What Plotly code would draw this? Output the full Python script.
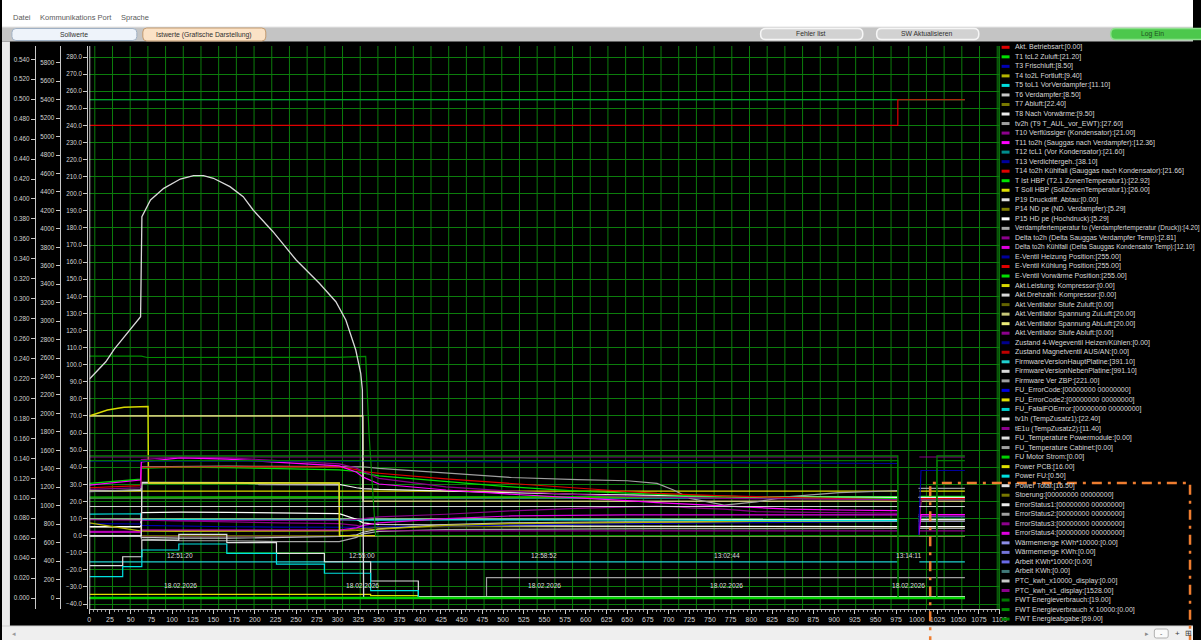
import plotly.graph_objects as go

FIG_W, FIG_H = 1201, 640
FONT = "Liberation Sans, Arial, sans-serif"

# ---------------- legend: channel labels and colours ----------------
LEGEND_LABELS = [
    "Akt. Betriebsart:[0.00]",
    "T1 tcL2 Zuluft:[21.20]",
    "T3 Frischluft:[8.50]",
    "T4 to2L Fortluft:[9.40]",
    "T5 toL1 VorVerdampfer:[11.10]",
    "T6 Verdampfer:[8.50]",
    "T7 Abluft:[22.40]",
    "T8 Nach Vorwärme:[9.50]",
    "tv2h (T9 T_AUL_vor_EWT):[27.60]",
    "T10 Verflüssiger (Kondensator):[21.00]",
    "T11 to2h (Sauggas nach Verdampfer):[12.36]",
    "T12 tcL1 (Vor Kondensator):[21.60]",
    "T13 Verdichtergeh.:[38.10]",
    "T14 to2h Kühlfall (Sauggas nach Kondensator):[21.66]",
    "T Ist HBP (T2.1 ZonenTemperatur1):[22.92]",
    "T Soll HBP (SollZonenTemperatur1):[26.00]",
    "P19 Druckdiff. Abtau:[0.00]",
    "P14 ND pe (ND. Verdampfer):[5.29]",
    "P15 HD pe (Hochdruck):[5.29]",
    "Verdampfertemperatur to (Verdampfertemperatur (Druck)):[4.20]",
    "Delta to2h (Delta Sauggas Verdampfer Temp):[2.81]",
    "Delta to2h Kühlfall (Delta Sauggas Kondensator Temp):[12.10]",
    "E-Ventil Heizung Position:[255.00]",
    "E-Ventil Kühlung Position:[255.00]",
    "E-Ventil Vorwärme Position:[255.00]",
    "Akt.Leistung: Kompressor:[0.00]",
    "Akt.Drehzahl: Kompressor:[0.00]",
    "Akt.Ventilator Stufe Zuluft:[0.00]",
    "Akt.Ventilator Spannung ZuLuft:[20.00]",
    "Akt.Ventilator Spannung AbLuft:[20.00]",
    "Akt.Ventilator Stufe Abluft:[0.00]",
    "Zustand 4-Wegeventil Heizen/Kühlen:[0.00]",
    "Zustand Magnetventil AUS/AN:[0.00]",
    "FirmwareVersionHauptPlatine:[391.10]",
    "FirmwareVersionNebenPlatine:[991.10]",
    "Firmware Ver ZBP:[221.00]",
    "FU_ErrorCode:[00000000 00000000]",
    "FU_ErrorCode2:[00000000 00000000]",
    "FU_FatalFOErrror:[00000000 00000000]",
    "tv1h (TempZusatz1):[22.40]",
    "tE1u (TempZusatz2):[11.40]",
    "FU_Temperature Powermodule:[0.00]",
    "FU_Temperature Cabinet:[0.00]",
    "FU Motor Strom:[0.00]",
    "Power PCB:[16.00]",
    "Power FU:[0.50]",
    "Power Total:[16.50]",
    "Stoerung:[00000000 00000000]",
    "ErrorStatus1:[00000000 00000000]",
    "ErrorStatus2:[00000000 00000000]",
    "ErrorStatus3:[00000000 00000000]",
    "ErrorStatus4:[00000000 00000000]",
    "Wärmemenge KWh*10000:[0.00]",
    "Wärmemenge KWh:[0.00]",
    "Arbeit KWh*10000:[0.00]",
    "Arbeit KWh:[0.00]",
    "PTC_kwh_x10000_display:[0.00]",
    "PTC_kwh_x1_display:[1528.00]",
    "FWT Energieverbrauch:[19.00]",
    "FWT Energieverbrauch X 10000:[0.00]",
    "FWT Energieabgabe:[69.00]",
]

LEGEND_COLORS = [
    "#e00000", "#00e000", "#0000b4", "#b4b400", "#00dcdc", "#c8c8c8", "#787800",
    "#ececec", "#a0a0a0", "#8c008c", "#ff00ff", "#008c8c", "#00009c", "#e00000",
    "#00e000", "#dcdc00", "#e0e0e0", "#808000", "#ffffff", "#a8a8a8", "#8c008c",
    "#e000e0", "#00009c", "#e00000", "#00e000", "#d8d800", "#d8d8d8", "#646400",
    "#c8c878", "#ecec78", "#8c008c", "#00008c", "#c00000", "#20d0d0", "#d8d8d8",
    "#a0a0a0", "#0000e0", "#e0e000", "#00d0d0", "#ececec", "#8c008c", "#e0e0e0",
    "#a0a0a0", "#00d000", "#e0e000", "#00e0e0", "#e0e0e0", "#787800", "#ececec",
    "#a0a0a0", "#8c008c", "#e000e0", "#8c8ce6", "#7474d8", "#6a6ae8", "#407878",
    "#c8c8c8", "#8c008c", "#007800", "#008c00", "#008400",
]

# legend rows whose text is longer than the remaining width get a smaller font
LEGEND_SIZES = [6.5 if len(lbl) > 58 else 7 for lbl in LEGEND_LABELS]

# ---------------- sample grids (sample index on the x axis) ----------------
X_T = [0, 62, 63, 110, 167, 230, 302, 323, 331, 350, 431, 510, 590, 650, 686,
       706, 726, 767, 806, 846, 906, 977, 990, 1002, 1005, 1058]
X_FLAT = [0, 977, 990, 1003, 1058]
X_FULL = [0, 1058]

# ---------------- temperatures / pressures (left axis -40 ... 280) ----------------
t1_zuluft = [30.6, 33.0, 39.5, 40.0, 39.8, 39.2, 38.5, 37.5, 36.5, 35.0, 31.5, 28.5, 26.0,
             24.8, 24.0, 23.7, 23.4, 23.0, 22.6, 22.3, 21.9, 21.6, None, 0.0, 21.2, 21.2]
t3_frischluft = [7.0, 6.8, 6.0, 5.5, 5.2, 5.0, 4.8, 4.8, 4.9, 5.2, 5.8, 6.3, 6.8,
                 7.0, 7.1, 7.2, 7.3, 7.5, 7.7, 7.9, 8.1, 8.3, None, 8.5, 8.5, 8.5]
t4_fortluft = [7.5, 3.0, 2.6, 2.5, 2.5, 2.6, 2.8, 3.0, 3.2, 4.0, 6.0, 7.0, 7.5,
               7.8, 8.0, 8.0, 8.1, 8.2, 8.3, 8.5, 8.7, 8.9, None, 9.4, 9.4, 9.4]
t5_vorverdampfer = [12.6, 12.8, 9.5, 9.3, 9.2, 9.2, 9.2, 9.0, 9.0, 9.1, 9.2, 9.3, 9.3,
                    9.2, 9.1, 9.0, 8.9, 8.8, 8.8, 8.8, 8.8, 8.8, None, 11.1, 11.1, 11.1]
t6_verdampfer = [-0.5, -0.5, -1.0, -1.5, -1.5, -1.0, -0.5, 0.5, 2.0, 4.0, 6.5, 7.5, 8.0,
                 8.1, 8.1, 8.2, 8.2, 8.3, 8.3, 8.3, 8.4, 8.4, None, 8.5, 8.5, 8.5]
t9_aul = [25.7, 26.9, 40.3, 40.6, 40.6, 40.5, 40.4, 40.3, 40.3, 39.4, 36.6, 34.0, 32.8,
          32.1, 30.6, 26.7, 21.8, 17.9, 19.8, 22.8, 25.1, 26.3, None, 27.6, 27.6, 27.6]
t10_kondensator = [27.0, 28.0, 44.5, 46.0, 45.5, 43.8, 42.0, 39.5, 37.5, 33.5, 28.5, 26.0, 24.0,
                   23.0, 22.5, 22.3, 22.1, 21.8, 21.6, 21.4, 21.2, 21.1, None, 0.0, 21.0, 21.0]
t11_sauggas = [29.6, 32.5, 43.1, 45.5, 44.7, 42.8, 40.8, 37.1, 34.2, 30.2, 26.7, 24.2, 22.2,
               20.5, 19.3, 18.8, 18.2, 17.6, 16.6, 15.5, 15.0, 14.6, None, 0.0, 12.36, 12.36]
t13_verdichter = [43.5, 43.5, 43.4, 43.6, 43.8, 43.8, 43.8, 43.7, 43.6, 43.5, 43.3, 43.2, 43.0,
                  42.9, 42.8, 42.8, 42.7, 42.6, 42.5, 42.4, 42.3, 42.2, None, 0.0, 38.1, 38.1]
t14_kuehlfall = [28.0, 29.2, 40.0, 40.3, 40.3, 40.2, 40.2, 38.6, 37.4, 36.5, 33.2, 30.5, 27.6,
                 25.8, 24.7, 24.3, 23.9, 23.3, 22.8, 22.2, 21.6, 20.9, None, 0.0, 21.66, 21.66]
p14_nd = [5.3, 5.3, 3.0, 2.9, 2.9, 2.9, 3.0, 4.0, 4.5, 5.0, 5.2, 5.3, 5.3,
          5.3, 5.3, 5.3, 5.3, 5.3, 5.3, 5.3, 5.3, 5.3, None, 5.29, 5.29, 5.29]
p15_hd = [5.3, 5.3, 13.5, 13.8, 13.6, 13.3, 12.9, 9.5, 7.5, 6.5, 6.0, 5.8, 5.6,
          5.5, 5.5, 5.4, 5.4, 5.4, 5.4, 5.3, 5.3, 5.3, None, 5.29, 5.29, 5.29]
verdampfer_to = [5.0, 5.0, -2.0, -3.0, -3.0, -3.5, -3.5, -1.0, 1.0, 2.5, 3.5, 3.8, 4.0,
                 4.0, 4.1, 4.1, 4.1, 4.1, 4.2, 4.2, 4.2, 4.2, None, 4.2, 4.2, 4.2]
delta_verdampfer = [2.5, 2.5, 9.0, 8.5, 8.0, 7.5, 7.0, 6.0, 5.0, 3.0, 2.8, 2.8, 2.8,
                    2.8, 2.8, 2.8, 2.8, 2.8, 2.8, 2.8, 2.8, 2.8, None, 2.81, 2.81, 2.81]
delta_kondensator = [2.0, 2.0, 3.3, 3.3, 3.3, 3.3, 3.3, 4.5, 6.0, 7.5, 10.0, 11.5, 12.0,
                     12.1, 12.1, 12.1, 12.1, 12.1, 12.1, 12.1, 12.1, 12.1, None, 12.1, 12.1, 12.1]
tv1h_zusatz1 = [26.0, 26.5, 30.8, 30.8, 30.8, 30.0, 30.0, 28.0, 27.5, 27.0, 26.0, 25.0, 24.2,
                23.8, 23.5, 23.3, 23.1, 22.9, 22.7, 22.6, 22.5, 22.4, None, 22.4, 22.4, 22.4]
te1u_zusatz2 = [9.3, 9.3, 9.0, 8.8, 8.8, 8.9, 9.0, 9.5, 10.0, 11.0, 12.5, 14.5, 16.0,
                17.0, 17.3, 17.0, 16.2, 15.5, 14.0, 13.8, 13.4, 13.1, None, 0.0, 11.4, 11.4]

t7_abluft = [22.0, 22.4, None, 22.4, 22.4]
t8_vorwaerme = [9.7, 9.5, None, 9.5, 9.5]
t12_vor_kond = [21.8, 21.7, None, 21.6, 21.6]
t_ist_hbp = [22.6, 22.8, None, 22.92, 22.92]
t_soll_hbp = [26.0, 26.0, None, 26.0, 26.0]
zero_flat = [0.0, 0.0, None, 0.0, 0.0]

e_ventil_255 = [255.0, 255.0]
X_KUEHL = [0, 977, 1058]
e_ventil_kuehl = [240.0, 255.0, 255.0]

X_LEISTUNG = [0, 22, 42, 64, 71, 71.6, 302, 302.3, 1058]
akt_leistung = [70.0, 73.5, 75.1, 75.5, 75.5, 30.8, 30.8, 0.0, 0.0]

X_VENT = [0, 330.5, 331, 977, 990, 1003, 1058]
vent_spannung_zu = [70.0, 70.0, 20.0, 20.0, None, 20.0, 20.0]
vent_spannung_ab = [70.0, 70.0, 20.0, 20.0, None, 20.0, 20.0]

X_FU_TEMP = [0, 63, 63.5, 204, 205, 299, 302, 302.5, 1058]
fu_temp_power = [0.0, 0.0, 31.2, 31.2, 31.0, 31.0, 30.8, 0.0, 0.0]
fu_temp_cabinet = [0.0, 0.0, 30.8, 30.8, 29.8, 29.8, 29.5, 0.0, 0.0]

X_FWT10K = [0, 63, 70, 300, 334, 338, 346, 1058]
fwt_verbrauch_10k = [105.0, 105.0, 104.2, 104.3, 104.8, 60.0, 0.0, 0.0]

# ---------------- second axis 0 ... 5800 ----------------
X_DREHZAHL = [0, 20, 30, 62, 63.6, 74, 90, 110, 126, 138, 150, 170, 186, 198, 222,
              250, 278, 298, 310, 322, 328, 330, 331.5, 1058]
drehzahl = [2370, 2560, 2695, 3048, 4132, 4313, 4439, 4540, 4576, 4576, 4548, 4457, 4348,
            4204, 3969, 3662, 3410, 3210, 3012, 2687, 2435, 2254, 0, 0]

X_POWER = [0, 40.4, 63.5, 108.2, 166.2, 226.2, 284.1, 340.0, 397.6, 1058]
power_fu = [231, 339, 520, 585, 484, 368, 268, 79, 0.5, 0.5]
power_total = [350, 447, 628, 690, 599, 484, 393, 184, 16.5, 16.5]
X_PCB = [0, 340.0, 397.6, 1058]
power_pcb = [40, 25, 16, 16]

X_ZBP = [0, 480, 1058]
fw_zbp = [0.0, 221.0, 221.0]
fw_haupt = [391.1, 391.1, None, 391.1, 391.1]
fw_neben = [991.1, 991.1, None, 991.1, 991.1]
ptc_x1 = [1528.0, 1528.0, None, 1528.0, 1528.0]

X_FWT = [0, 977, 977.3, 1024, 1024.3, 1058]
fwt_verbrauch = [1488, 1488, 0, 0, 1488, 1488]
fwt_abgabe = [1539, 1539, 0, 0, 1539, 1539]

# ---------------- third axis 0.000 ... 0.540 ----------------
zero_full = [0.0, 0.0]

# time stamps written into the plot
STAMP_X = [110, 330, 550, 770, 990]
STAMP_TIME = ["12:51:20", "12:55:00", "12:58:52", "13:02:44", "13:14:11"]
STAMP_DATE = ["18.02.2026", "18.02.2026", "18.02.2026", "18.02.2026", "18.02.2026"]

# (legend index, axis, x, y, line shape, width) -- drawing order
TRACES = [
    # temperature axis
    (0, "t", X_FLAT, zero_flat, "linear", 1.2),
    (32, "t", X_FLAT, zero_flat, "linear", 1.2),
    (31, "t", X_FLAT, zero_flat, "linear", 1.2),
    (30, "t", X_FLAT, zero_flat, "linear", 1.2),
    (16, "t", X_FLAT, zero_flat, "linear", 1.2),
    (27, "t", X_FLAT, zero_flat, "linear", 1.2),
    (19, "t", X_T, verdampfer_to, "linear", 1.2),
    (20, "t", X_T, delta_verdampfer, "linear", 1.2),
    (17, "t", X_T, p14_nd, "linear", 1.2),
    (18, "t", X_T, p15_hd, "linear", 1.2),
    (2, "t", X_T, t3_frischluft, "linear", 1.2),
    (5, "t", X_T, t6_verdampfer, "linear", 1.2),
    (3, "t", X_T, t4_fortluft, "linear", 1.2),
    (7, "t", X_FLAT, t8_vorwaerme, "linear", 1.2),
    (4, "t", X_T, t5_vorverdampfer, "linear", 1.2),
    (21, "t", X_T, delta_kondensator, "linear", 1.2),
    (40, "t", X_T, te1u_zusatz2, "linear", 1.2),
    (11, "t", X_FLAT, t12_vor_kond, "linear", 1.2),
    (6, "t", X_FLAT, t7_abluft, "linear", 1.2),
    (14, "t", X_FLAT, t_ist_hbp, "linear", 1.2),
    (15, "t", X_FLAT, t_soll_hbp, "linear", 1.2),
    (39, "t", X_T, tv1h_zusatz1, "linear", 1.2),
    (29, "t", X_VENT, vent_spannung_ab, "linear", 1.2),
    (28, "t", X_VENT, vent_spannung_zu, "linear", 1.2),
    (42, "t", X_FU_TEMP, fu_temp_cabinet, "linear", 1.2),
    (41, "t", X_FU_TEMP, fu_temp_power, "linear", 1.2),
    (25, "t", X_LEISTUNG, akt_leistung, "linear", 1.4),
    (8, "t", X_T, t9_aul, "linear", 1.2),
    (1, "t", X_T, t1_zuluft, "linear", 1.2),
    (13, "t", X_T, t14_kuehlfall, "linear", 1.2),
    (9, "t", X_T, t10_kondensator, "linear", 1.2),
    (10, "t", X_T, t11_sauggas, "linear", 1.2),
    (12, "t", X_T, t13_verdichter, "linear", 1.2),
    (59, "t", X_FWT10K, fwt_verbrauch_10k, "linear", 1.2),
    (22, "t", X_FULL, e_ventil_255, "linear", 1.2),
    (24, "t", X_FULL, e_ventil_255, "linear", 1.2),
    (23, "t", X_KUEHL, e_ventil_kuehl, "hv", 1.2),
    # 0 ... 5800 axis
    (35, "w", X_ZBP, fw_zbp, "hv", 1.2),
    (33, "w", X_FLAT, fw_haupt, "linear", 1.2),
    (34, "w", X_FLAT, fw_neben, "linear", 1.0),
    (57, "w", X_FLAT, ptc_x1, "linear", 1.2),
    (44, "w", X_PCB, power_pcb, "hv", 1.2),
    (46, "w", X_POWER, power_total, "hv", 1.2),
    (45, "w", X_POWER, power_fu, "hv", 1.2),
    (58, "w", X_FWT, fwt_verbrauch, "linear", 1.2),
    (60, "w", X_FWT, fwt_abgabe, "linear", 1.2),
    (26, "w", X_DREHZAHL, drehzahl, "linear", 1.3),
    # 0.000 ... 0.540 axis
    (36, "k", X_FULL, zero_full, "linear", 1.2),
    (37, "k", X_FULL, zero_full, "linear", 1.2),
    (38, "k", X_FULL, zero_full, "linear", 1.2),
    (47, "k", X_FULL, zero_full, "linear", 1.2),
    (48, "k", X_FULL, zero_full, "linear", 1.2),
    (49, "k", X_FULL, zero_full, "linear", 1.2),
    (50, "k", X_FULL, zero_full, "linear", 1.2),
    (51, "k", X_FULL, zero_full, "linear", 1.2),
    (52, "k", X_FULL, zero_full, "linear", 1.2),
    (53, "k", X_FULL, zero_full, "linear", 1.2),
    (54, "k", X_FULL, zero_full, "linear", 1.2),
    (55, "k", X_FULL, zero_full, "linear", 1.2),
    (56, "k", X_FULL, zero_full, "linear", 1.2),
    (43, "k", X_FULL, zero_full, "linear", 2.6),
]
AXIS_REF = {"t": "y", "w": "y2", "k": "y3"}

# ---------------- geometry helpers (pixel -> paper) ----------------
def px(xp):
    return xp / FIG_W


def py(yp):
    return 1 - yp / FIG_H


PLOT_L, PLOT_R, PLOT_T, PLOT_B = 88, 1006, 46, 609
Y_DOMAIN = [py(PLOT_B), py(PLOT_T)]

fig = go.Figure()
for idx, axis, xs, ys, shape, width in TRACES:
    fig.add_trace(go.Scatter(
        x=xs, y=ys, mode="lines", name=LEGEND_LABELS[idx],
        xaxis="x", yaxis=AXIS_REF[axis], connectgaps=False,
        line=dict(color=LEGEND_COLORS[idx], width=width, shape=shape),
        hoverinfo="skip", showlegend=False,
    ))

axis_common = dict(
    showline=True, linecolor="#c8c8c8", linewidth=1,
    ticks="outside", ticklen=4, tickcolor="#c8c8c8",
    tickfont=dict(size=6.3, color="#d4d4d4", family=FONT),
    zeroline=False, fixedrange=True,
)

fig.update_layout(
    width=FIG_W, height=FIG_H,
    margin=dict(l=0, r=0, t=0, b=0),
    paper_bgcolor="#000000", plot_bgcolor="#000000",
    showlegend=False,
    font=dict(family=FONT, color="#d4d4d4"),
    xaxis=dict(
        domain=[px(PLOT_L), px(PLOT_R)], range=[0, 1100], anchor="y",
        showline=True, linecolor="#c8c8c8", linewidth=1,
        ticks="outside", ticklen=4, tickcolor="#c8c8c8",
        tick0=0, dtick=25, showgrid=False, zeroline=False,
        tickfont=dict(size=7, color="#d4d4d4", family=FONT),
        minor=dict(dtick=5, ticks="outside", ticklen=2, tickcolor="#9a9a9a", showgrid=False),
    ),
    yaxis=dict(
        domain=Y_DOMAIN, range=[-42.925, 286.435], anchor="free", position=px(86),
        side="left", tick0=0, dtick=10, tickformat=".1f",
        showgrid=True, gridcolor="#0c7c0c", gridwidth=1, **axis_common,
    ),
    yaxis2=dict(
        overlaying="y", range=[-119.2, 5981.1], anchor="free", position=px(58),
        side="left", tick0=0, dtick=200, tickformat="d", showgrid=False, **axis_common,
    ),
    yaxis3=dict(
        overlaying="y", range=[-0.01103, 0.55333], anchor="free", position=px(33),
        side="left", tick0=0, dtick=0.02, tickformat=".3f", showgrid=False, **axis_common,
    ),
)

shapes = []
annotations = []

# vertical grid of the plot area
GRID_X0, GRID_DX = 6.7, 21.38
for k in range(52):
    gx = GRID_X0 + k * GRID_DX
    if gx > 1100:
        break
    shapes.append(dict(type="line", xref="x", yref="paper", x0=gx, x1=gx,
                       y0=Y_DOMAIN[0], y1=Y_DOMAIN[1], layer="below",
                       line=dict(color="#0c7c0c", width=1)))
# plot frame lines
shapes.append(dict(type="line", xref="paper", yref="paper", x0=px(88.5), x1=px(88.5),
                   y0=Y_DOMAIN[0], y1=Y_DOMAIN[1], line=dict(color="#c8c8c8", width=1)))
shapes.append(dict(type="line", xref="paper", yref="paper", x0=px(1005.5), x1=px(1005.5),
                   y0=Y_DOMAIN[0], y1=Y_DOMAIN[1], line=dict(color="#0c7c0c", width=1.5)))


def rect(x0, y0, x1, y1, fill, line=None, lw=0):
    return dict(type="rect", xref="paper", yref="paper",
                x0=px(x0), x1=px(x1), y0=py(y1), y1=py(y0),
                fillcolor=fill, line=dict(color=line or fill, width=lw), layer="above")


def rounded(x0, y0, x1, y1, r, fill, line, lw=1):
    pts = (f"M {px(x0 + r)},{py(y0)} L {px(x1 - r)},{py(y0)} "
           f"Q {px(x1)},{py(y0)} {px(x1)},{py(y0 + r)} L {px(x1)},{py(y1 - r)} "
           f"Q {px(x1)},{py(y1)} {px(x1 - r)},{py(y1)} L {px(x0 + r)},{py(y1)} "
           f"Q {px(x0)},{py(y1)} {px(x0)},{py(y1 - r)} L {px(x0)},{py(y0 + r)} "
           f"Q {px(x0)},{py(y0)} {px(x0 + r)},{py(y0)} Z")
    return dict(type="path", xref="paper", yref="paper", path=pts,
                fillcolor=fill, line=dict(color=line, width=lw), layer="above")


def text(x, y, s, size=7, color="#d4d4d4", anchor="left", ref="paper"):
    return dict(xref=ref, yref="paper", x=x if ref != "paper" else px(x), y=py(y),
                text=s, showarrow=False, xanchor=anchor, yanchor="middle",
                font=dict(size=size, color=color, family=FONT))


# window chrome: menu bar, tab strip, side and bottom strips
shapes.append(rect(0, 0, FIG_W, 27, "#ffffff"))
shapes.append(rect(0, 27, FIG_W, 41.5, "#c4c4c4"))
shapes.append(rect(0, 26.5, FIG_W, 27.5, "#e6e6e6"))
shapes.append(rect(0, 41.5, 8, 626, "#ececec"))
shapes.append(rect(0, 626, FIG_W, FIG_H, "#efefef"))
shapes.append(rect(0, 625.5, FIG_W, 626.5, "#d0d0d0"))
shapes.append(rounded(10, 28.5, 136, 40.5, 4, "#eef3fa", "#9fb0c4"))
shapes.append(rounded(142, 28, 266, 41, 4, "#fbe2c6", "#c39a6e"))
shapes.append(rounded(765, 28.5, 868, 39.5, 5, "#d2d2d2", "#f6f6f6", 1.5))
shapes.append(rounded(882, 28.5, 985, 39.5, 5, "#d2d2d2", "#f6f6f6", 1.5))
shapes.append(rounded(1118, 28.5, 1215, 39.5, 5, "#4cc84c", "#8fe08f", 1.5))
shapes.append(rounded(1162, 629, 1176, 638, 2, "#fafafa", "#b0b0b0"))

annotations += [
    text(9, 18, "Datei", 7.5, "#5a5a5a"),
    text(36, 18, "Kommunikations Port", 7.5, "#5a5a5a"),
    text(118, 18, "Sprache", 7.5, "#5a5a5a"),
    text(73, 34.5, "Sollwerte", 6.8, "#303030", "center"),
    text(204, 34.5, "Istwerte (Grafische Darstellung)", 6.8, "#303030", "center"),
    text(816, 34, "Fehler list", 6.8, "#303030", "center"),
    text(933, 34, "SW Aktualisieren", 6.8, "#303030", "center"),
    text(1160, 34, "Log Ein", 6.8, "#1f4f1f", "center"),
    text(12, 633, "◂", 7, "#9a9a9a", "center"),
    text(1155, 633, "▸", 7, "#8a8a8a", "center"),
    text(1169, 633, "-", 7, "#606060", "center"),
    text(1185, 633, "+", 8, "#404040", "center"),
    text(1196, 633, "⊞", 8, "#404040", "center"),
]

# time stamps inside the plot
for sx, st, sd in zip(STAMP_X, STAMP_TIME, STAMP_DATE):
    annotations.append(text(sx, 555, st, 6.6, "#dcdcdc", "center", ref="x"))
    annotations.append(text(sx, 585, sd, 6.6, "#dcdcdc", "center", ref="x"))

# channel legend on the right
LEG_Y0, LEG_DY = 47.3, 9.53
for i, (label, color, size) in enumerate(zip(LEGEND_LABELS, LEGEND_COLORS, LEGEND_SIZES)):
    yy = LEG_Y0 + i * LEG_DY
    shapes.append(dict(type="line", xref="paper", yref="paper",
                       x0=px(1008), x1=px(1016), y0=py(yy), y1=py(yy),
                       line=dict(color=color, width=3), layer="above"))
    annotations.append(text(1019, yy, label, size, "#d8d8d8"))

# orange dash-dot marker frame
shapes.append(dict(type="rect", xref="paper", yref="paper",
                   x0=px(936), x1=px(1198), y0=py(660), y1=py(483),
                   line=dict(color="#ee7d30", width=2.5, dash="10px,6px,3px,6px"),
                   fillcolor="rgba(0,0,0,0)", layer="above"))

fig.update_layout(shapes=shapes, annotations=annotations)
fig.write_html("out.html")
